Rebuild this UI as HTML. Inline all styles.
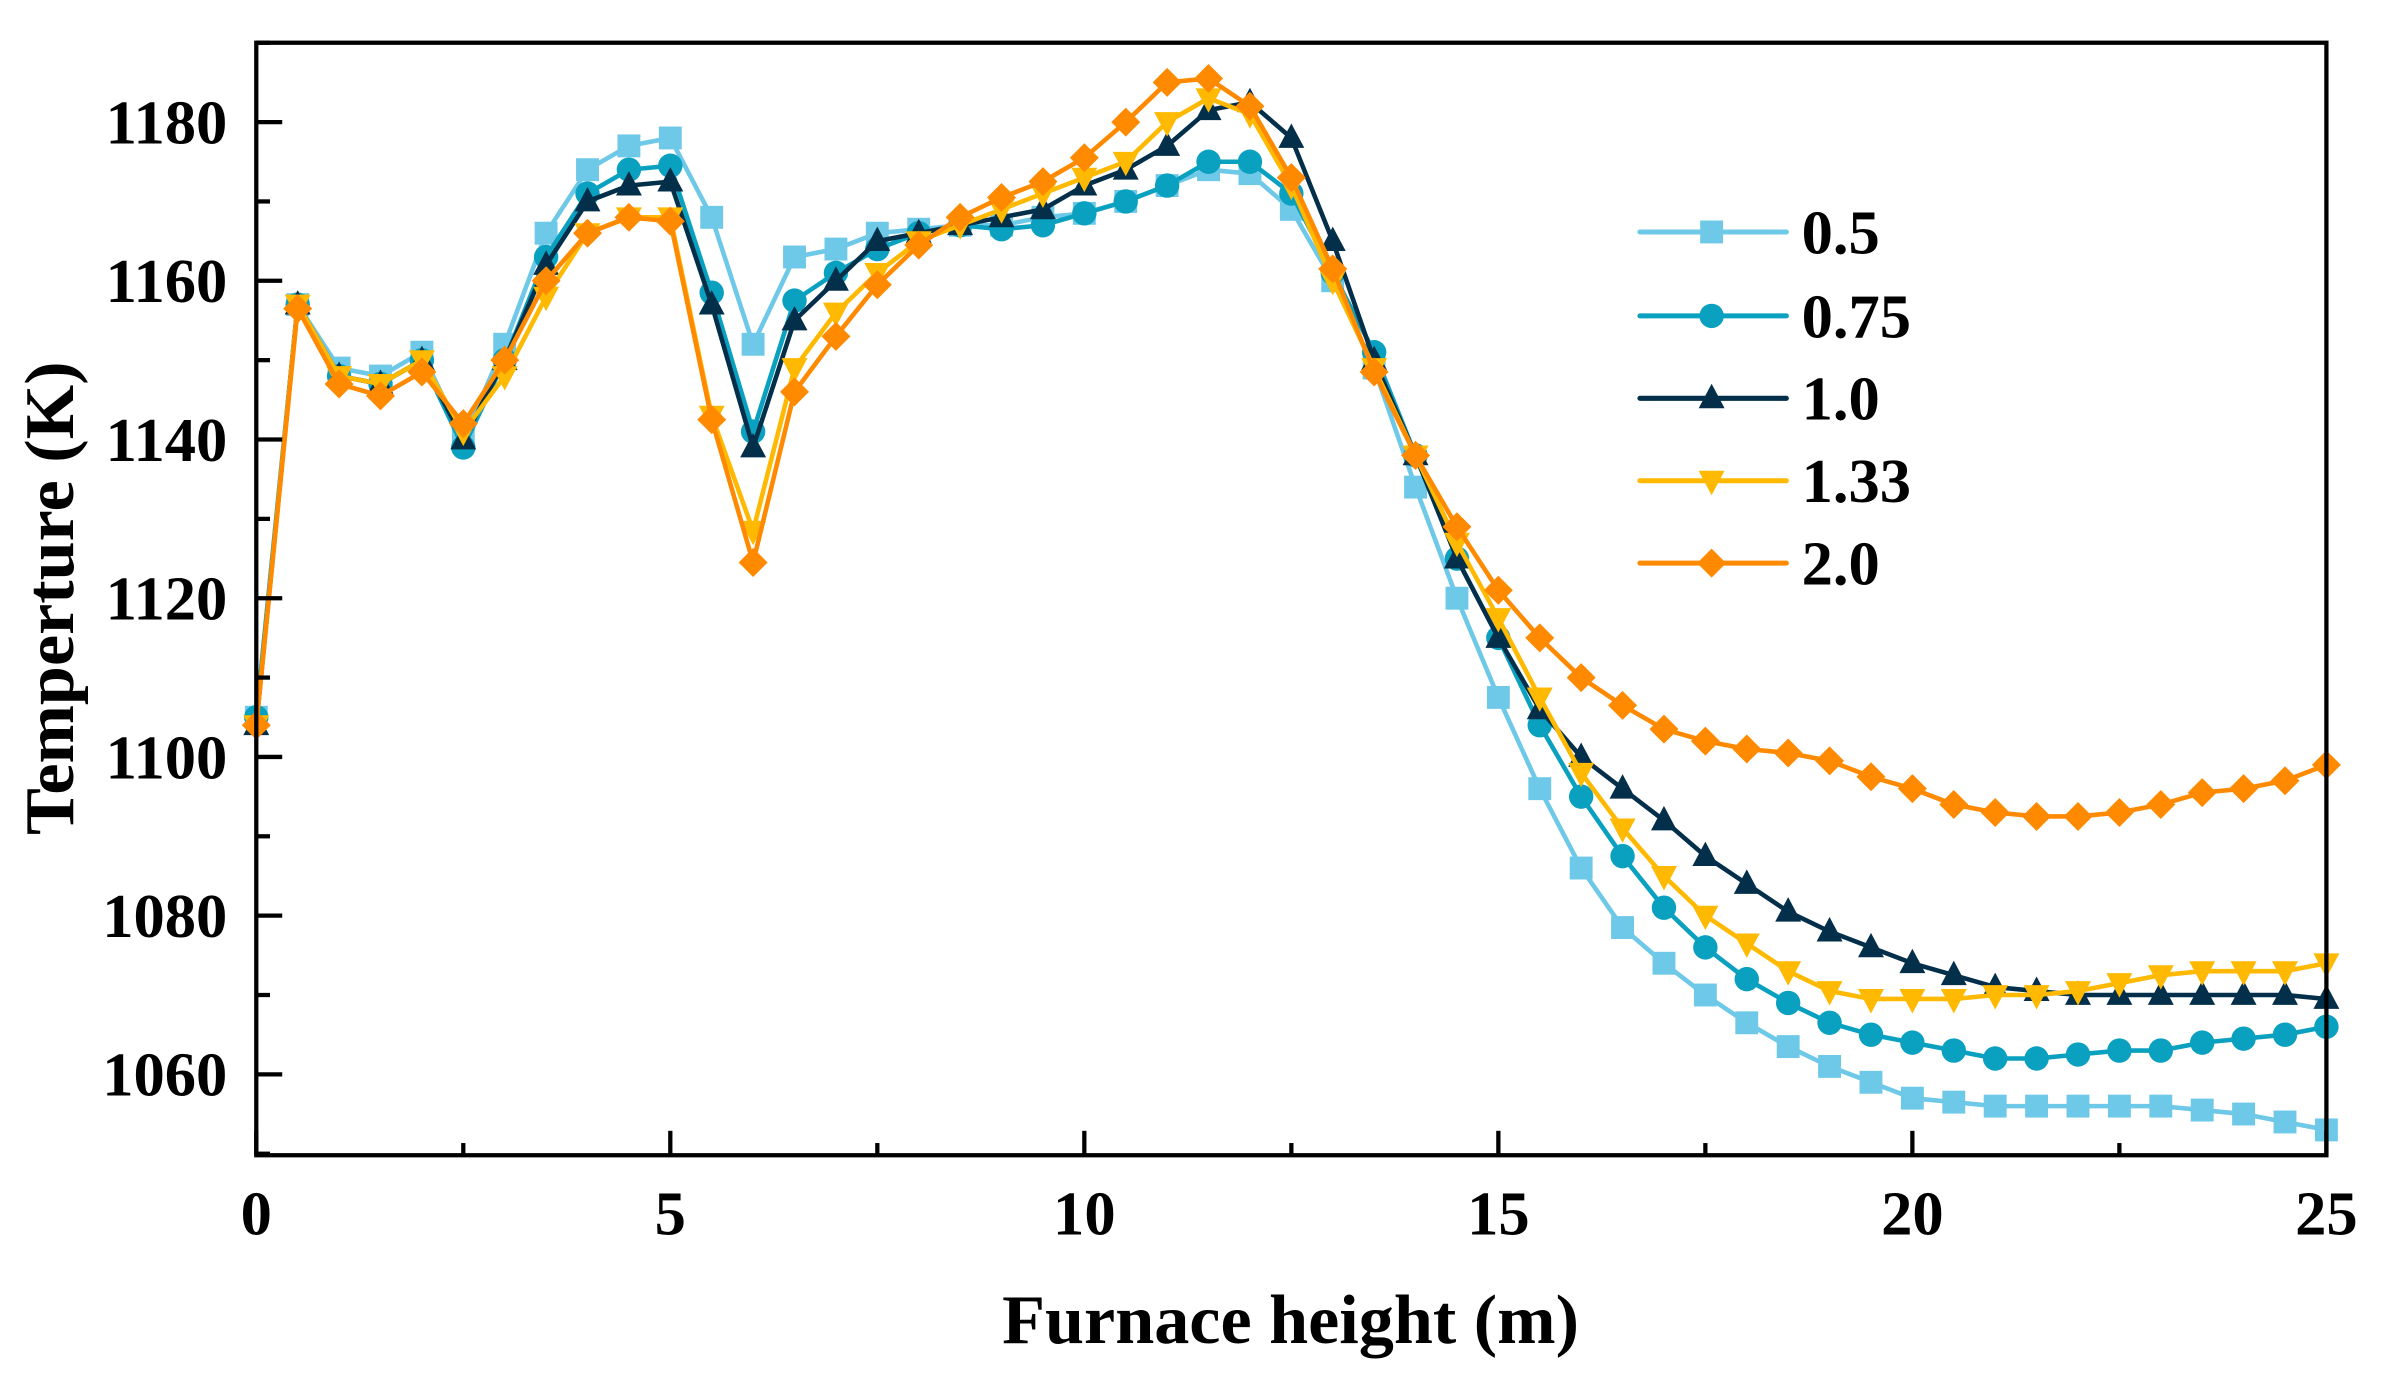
<!DOCTYPE html>
<html><head><meta charset="utf-8"><style>html,body{margin:0;padding:0;background:#fff}svg{display:block}</style></head>
<body>
<svg id="s" width="2392" height="1375" viewBox="0 0 1568 901" preserveAspectRatio="none" xmlns="http://www.w3.org/2000/svg" font-family="Liberation Serif, serif" font-weight="bold"></svg>
<script>
const S=document.getElementById('s');const NS='http://www.w3.org/2000/svg';
function el(t,a,txt){const e=document.createElementNS(NS,t);for(const k in a)e.setAttribute(k,a[k]);if(txt!==undefined)e.textContent=txt;S.appendChild(e);return e;}
const X=v=>168+v*54.28, Y=T=>80+(1180-T)*5.2;
const data={
'0.5':[1105,1157,1149,1148,1151,1140,1152,1166,1174,1177,1178,1168,1152,1163,1164,1166,1166.5,1167,1167,1168,1168.5,1170,1172,1174,1173.5,1169,1160,1149,1134,1120,1107.5,1096,1086,1078.5,1074,1070,1066.5,1063.5,1061,1059,1057,1056.5,1056,1056,1056,1056,1056,1055.5,1055,1054,1053],
'0.75':[1105,1157,1148,1147,1150,1139,1150,1163,1171,1174,1174.5,1158.5,1141,1157.5,1161,1164,1166,1167,1166.5,1167,1168.5,1170,1172,1175,1175,1171,1161,1151,1138,1125,1115,1104,1095,1087.5,1081,1076,1072,1069,1066.5,1065,1064,1063,1062,1062,1062.5,1063,1063,1064,1064.5,1065,1066],
'1.0':[1104,1157,1148,1147,1150,1140,1150,1162,1170,1172,1172.5,1157,1139,1155,1160,1165,1166,1167,1168,1169,1172,1174,1177,1181.5,1182.5,1178,1165,1150,1138,1125,1115,1106,1100,1096,1092,1087.5,1084,1080.5,1078,1076,1074,1072.5,1071,1070.5,1070,1070,1070,1070,1070,1070,1069.5],
'1.33':[1104,1157,1148,1147,1150,1141,1148,1158,1166,1168,1168,1143,1128.5,1149,1156,1161,1165,1167,1169,1171,1173,1175,1180,1183,1181,1172,1160,1149,1138,1127,1117.5,1107.5,1098,1091,1085,1080,1076.5,1073,1070.5,1069.5,1069.5,1069.5,1070,1070,1070.5,1071.5,1072.5,1073,1073,1073,1074],
'2.0':[1104,1156.5,1147,1145.5,1148.5,1142,1150,1160,1166,1168,1167.5,1142.5,1124.5,1146,1153,1159.5,1164.5,1168,1170.5,1172.5,1175.5,1180,1185,1185.5,1182,1173,1161.5,1148.5,1138,1129,1121,1115,1110,1106.5,1103.5,1102,1101,1100.5,1099.5,1097.5,1096,1094,1093,1092.5,1092.5,1093,1094,1095.5,1096,1097,1099]};
const st={'0.5':['#6ec8e8','sq'],'0.75':['#0aa0c0','ci'],'1.0':['#032f4a','tu'],'1.33':['#ffb900','td'],'2.0':['#ff8a00','di']};
function mk(x,y,t,c){const r=7.5;
if(t=='sq')el('rect',{x:x-r,y:y-r,width:2*r,height:2*r,fill:c});
else if(t=='ci')el('circle',{cx:x,cy:y,r:r+0.5,fill:c});
else if(t=='tu')el('polygon',{points:`${x},${y-r-2} ${x-r-1},${y+r-1} ${x+r+1},${y+r-1}`,fill:c});
else if(t=='td')el('polygon',{points:`${x},${y+r+2} ${x-r-1},${y-r+1} ${x+r+1},${y-r+1}`,fill:c});
else el('polygon',{points:`${x},${y-r-2} ${x+r+2},${y} ${x},${y+r+2} ${x-r-2},${y}`,fill:c});}
for(const k in data){const [c,t]=st[k];const pts=data[k].map((v,i)=>[X(i*0.5),Y(v)]);
el('polyline',{points:pts.map(p=>p.join(',')).join(' '),fill:'none',stroke:c,'stroke-width':3,'stroke-linejoin':'round'});
pts.forEach(p=>mk(p[0],p[1],t,c));}
el('rect',{x:168,y:28,width:1357,height:729,fill:'none',stroke:'#000','stroke-width':2.8});
for(let v=0;v<=25;v+=2.5){const x=X(v);el('line',{x1:x,y1:757,x2:x,y2:v%5==0?741:749,stroke:'#000','stroke-width':2.8});
if(v%5==0)el('text',{x:x,y:809,'text-anchor':'middle','font-size':41},v);}
for(let T=1050;T<=1190;T+=10){const y=Y(T);if(y<28||y>757)continue;el('line',{x1:168,y1:y,x2:T%20==0?185:177,y2:y,stroke:'#000','stroke-width':2.8});
if(T%20==0)el('text',{x:149,y:y+14,'text-anchor':'end','font-size':41},T);}
el('text',{x:846,y:880,'text-anchor':'middle','font-size':46},'Furnace height (m)');
el('text',{x:0,y:0,'text-anchor':'middle','font-size':46,transform:'translate(48,392) rotate(-90)'},'Temperture (K)');
const ly=[152,207,261,315,369];Object.keys(data).forEach((k,i)=>{const [c,t]=st[k];
el('line',{x1:1075,y1:ly[i],x2:1171,y2:ly[i],stroke:c,'stroke-width':3.3,'stroke-linecap':'round'});mk(1122,ly[i],t,c);
el('text',{x:1181,y:ly[i]+14,'font-size':41},k);});
</script>
</body></html>
